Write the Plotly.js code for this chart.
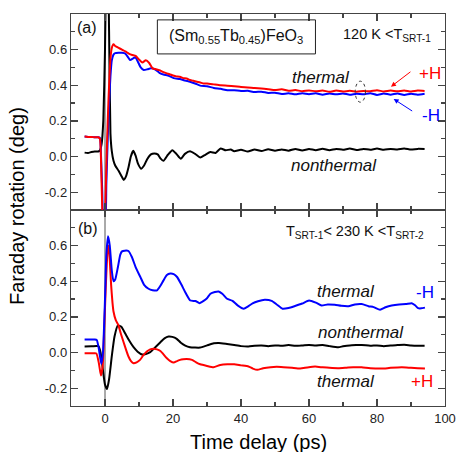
<!DOCTYPE html>
<html>
<head>
<meta charset="utf-8">
<script src="https://cdn.plot.ly/plotly-3.0.1.min.js"></script>
<style>html,body{margin:0;padding:0;background:#fff;}#chart{width:457px;height:452px;}</style>
</head>
<body>
<div id="chart"></div>
<script>
// ---------- Panel (a): 120 K < T_SRT-1 ----------
const aRedX = [-6,-5,-4,-3,-2,-1.5,-1.2,-0.8,-0.4,0,0.4,0.8,1.2,1.6,2,2.5,3,3.5,4,5,6,7,8,9,10,11,12,13,14,15,16,17,18,19,20,21,22,23,24,25,26,27,28,29,30,32,34,36,38,40,42,44,46,48,50,52,54,56,58,60,62,64,66,68,70,72,74,76,78,80,82,84,86,88,90,92,94];
const aRedY = [0.112,0.11,0.11,0.108,0.108,0.10,0.0,-0.3,-0.45,-0.35,-0.05,0.2,0.4,0.55,0.61,0.63,0.62,0.615,0.61,0.6,0.59,0.578,0.57,0.565,0.545,0.528,0.54,0.525,0.495,0.49,0.485,0.475,0.468,0.462,0.455,0.45,0.448,0.44,0.438,0.43,0.425,0.42,0.416,0.41,0.41,0.405,0.4,0.398,0.395,0.39,0.388,0.384,0.382,0.378,0.373,0.377,0.369,0.373,0.367,0.371,0.366,0.37,0.364,0.37,0.365,0.369,0.364,0.368,0.366,0.372,0.365,0.37,0.366,0.371,0.365,0.37,0.368];

const aBlueX = [-6,-5,-4,-3,-2,-1.5,-1.2,-0.8,-0.4,0,0.4,0.8,1.2,1.6,2,2.5,3,4,5,6,6.5,7.4,8.2,8.9,9.6,10.5,11.4,12.5,13.5,14.8,16,17.2,18.5,20.2,22,23.6,25,26.5,28,30,32,34,36,38,40,42,44,46,48,50,52,54,56,58,60,62,64,66,68,70,72,74,76,78,80,82,84,86,88,90,92,94];
const aBlueY = [0.112,0.11,0.11,0.108,0.108,0.105,0.02,-0.2,-0.4,-0.4,-0.15,0.1,0.3,0.45,0.54,0.572,0.58,0.582,0.582,0.578,0.565,0.542,0.55,0.557,0.535,0.5,0.486,0.49,0.495,0.488,0.47,0.46,0.455,0.44,0.435,0.426,0.42,0.41,0.398,0.395,0.385,0.38,0.372,0.372,0.368,0.369,0.362,0.364,0.357,0.358,0.351,0.355,0.349,0.355,0.35,0.355,0.347,0.354,0.349,0.354,0.347,0.353,0.349,0.355,0.346,0.354,0.347,0.354,0.346,0.352,0.347,0.352];

const aBlackX = [-6,-5,-4,-3,-2,-1.5,-1,-0.5,0,0.4,0.8,1.2,1.6,2,2.5,3,4,5,5.5,6.2,6.9,7.6,8.3,9,9.7,10.6,11.5,12.4,13.5,14.5,15.5,16.3,17.2,18.5,19.8,21,22.3,23.5,25,26.5,28,29.5,31,32.5,34,35.5,37,38,40,42,44,46,48,50,52,54,56,58,60,62,64,66,68,70,72,74,76,78,80,82,84,86,88,90,92,94];
const aBlackY = [0.022,0.02,0.025,0.028,0.028,0.035,0.07,0.2,0.6,1.1,1.2,0.7,0.13,0.03,-0.024,-0.05,-0.08,-0.115,-0.131,-0.11,-0.062,0.0,0.032,0.005,-0.04,-0.068,-0.05,-0.015,0.012,0.017,0.012,-0.01,-0.024,0.01,0.036,0.015,-0.012,0.015,0.03,0.015,-0.005,0.01,0.025,0.02,0.045,0.035,0.04,0.03,0.038,0.028,0.04,0.031,0.041,0.033,0.04,0.033,0.043,0.034,0.042,0.036,0.044,0.036,0.043,0.038,0.045,0.037,0.043,0.038,0.045,0.038,0.043,0.04,0.045,0.039,0.043,0.042];

// ---------- Panel (b): T_SRT-1 < 230 K < T_SRT-2 ----------
const bBlueX = [-6,-4,-3,-2.4,-1.8,-1.1,-0.6,0,0.4,0.9,1.4,2,2.5,3,3.8,4.5,5,5.8,6.9,7.9,9,10.4,11.5,12.8,14,15.3,16.3,17.2,18.2,19.2,20.2,21.2,22.5,23.6,25.1,26.6,27.8,29,30,31,32.3,33.4,34.5,35.9,37.5,39,40.8,42,43.4,45,47,49,50.5,52.2,54,55.7,58,60,62,63.7,65.5,67.6,69.5,71.6,73.5,75.5,77.5,79,80.9,82.5,84.3,86.5,88.5,90.2,91.2,92.1,93,94.1];
const bBlueY = [0.073,0.073,0.073,0.07,0.02,-0.064,0.0,0.3,0.55,0.652,0.6,0.46,0.40,0.41,0.48,0.55,0.568,0.572,0.57,0.536,0.48,0.424,0.38,0.358,0.35,0.349,0.375,0.405,0.435,0.443,0.44,0.424,0.38,0.339,0.292,0.289,0.277,0.29,0.305,0.33,0.34,0.343,0.33,0.302,0.29,0.265,0.246,0.258,0.276,0.288,0.296,0.29,0.27,0.246,0.25,0.26,0.275,0.292,0.28,0.264,0.27,0.268,0.262,0.26,0.27,0.272,0.26,0.255,0.24,0.254,0.264,0.27,0.272,0.277,0.265,0.249,0.248,0.252];

const bBlackX = [-6,-4,-2.5,-1.9,-1.3,-0.6,0,0.6,1.2,2,2.8,3.8,4.8,6,7.2,8.4,9.6,10.9,12,13.3,14.8,16.3,17.5,18.7,19.8,21.1,22.3,23.6,25,26.5,28,30,32,33.5,35.9,38,40,42.2,44,46,48,50,52,54,56,58,60,62,64,66,68.6,70,72,74,75.5,78,80,82,84,86,88,90,92,94];
const bBlackY = [0.034,0.035,0.037,0.035,0.0,-0.1,-0.18,-0.204,-0.15,-0.02,0.09,0.152,0.145,0.105,0.065,0.03,0.005,-0.011,-0.008,0.002,0.03,0.058,0.08,0.09,0.088,0.077,0.055,0.039,0.03,0.028,0.028,0.04,0.052,0.054,0.048,0.042,0.036,0.034,0.038,0.04,0.036,0.04,0.038,0.042,0.038,0.04,0.043,0.04,0.042,0.036,0.03,0.035,0.04,0.042,0.043,0.038,0.04,0.036,0.04,0.042,0.044,0.04,0.038,0.038];

const bRedX = [-6,-4,-3,-2.5,-1.8,-1.2,-0.7,-0.2,0.3,0.8,1.1,1.4,1.8,2.2,2.5,3.2,3.9,4.6,5.4,6.2,6.9,7.7,8.4,9.3,10.3,11.3,12.3,13.3,14.3,15.3,16.3,17.2,18.2,19.2,20.2,21.2,22.1,23,24,25.6,26.8,28,30,31.9,33.9,36,38,40,42.2,43.5,44.8,46.5,48.7,50.5,52.5,55,57.4,59.5,61.8,64,66,68.6,71,73,75.5,78,81.4,84,87.3,90,92,94.1];
const bRedY = [-0.004,-0.004,-0.004,-0.006,-0.06,-0.129,-0.08,0.15,0.4,0.58,0.6,0.52,0.38,0.28,0.23,0.18,0.156,0.11,0.062,0.015,-0.022,-0.05,-0.06,-0.055,-0.041,-0.015,0.006,0.018,0.021,0.018,0.009,-0.01,-0.032,-0.048,-0.056,-0.048,-0.041,-0.038,-0.036,-0.041,-0.055,-0.066,-0.075,-0.082,-0.07,-0.066,-0.066,-0.072,-0.078,-0.09,-0.097,-0.088,-0.082,-0.08,-0.082,-0.086,-0.09,-0.084,-0.079,-0.083,-0.086,-0.088,-0.085,-0.082,-0.083,-0.088,-0.09,-0.086,-0.083,-0.086,-0.088,-0.09];

const xTickVals = [0,20,40,60,80,100];
const yTickVals = [-0.2,0,0.2,0.4,0.6];
const yTickText = ['-0.2','0.0','0.2','0.4','0.6'];

const RED = '#ff0000', BLUE = '#0000ff', BLACK = '#000000';
const FONT = 'Liberation Sans, Arial, sans-serif';

function tr(x, y, color, xa, ya) {
  return {x: x, y: y, type: 'scatter', mode: 'lines', xaxis: xa, yaxis: ya,
    line: {color: color, width: 2, shape: 'spline', smoothing: 0.5},
    hoverinfo: 'skip', showlegend: false, cliponaxis: true};
}

const data = [
  tr(aBlackX, aBlackY, BLACK, 'x2', 'y2'),
  tr(aBlueX, aBlueY, BLUE, 'x2', 'y2'),
  tr(aRedX, aRedY, RED, 'x2', 'y2'),
  tr(bBlackX, bBlackY, BLACK, 'x', 'y'),
  tr(bRedX, bRedY, RED, 'x', 'y'),
  tr(bBlueX, bBlueY, BLUE, 'x', 'y')
];

const AX = '#444';
const xCommon = {
  range: [-10, 100], showgrid: false, zeroline: false,
  showline: true, linecolor: AX, linewidth: 1.2, mirror: 'ticks',
  ticks: 'inside', ticklen: 7, tickwidth: 1.2, tickcolor: AX,
  tickvals: xTickVals,
  minor: {tickvals: [-10,10,30,50,70,90], ticks: 'inside', ticklen: 4, tickwidth: 1.2, tickcolor: AX},
  tickfont: {family: FONT, size: 13, color: '#222'}
};
const yCommon = {
  range: [-0.3, 0.8], showgrid: false, zeroline: false,
  showline: true, linecolor: AX, linewidth: 1.2, mirror: 'ticks',
  ticks: 'inside', ticklen: 7, tickwidth: 1.2, tickcolor: AX,
  tickvals: yTickVals, ticktext: yTickText,
  minor: {tickvals: [-0.1,0.1,0.3,0.5,0.7], ticks: 'inside', ticklen: 4, tickwidth: 1.2, tickcolor: AX},
  tickfont: {family: FONT, size: 13, color: '#222'}
};

function txt(x, y, xr, yr, text, opts) {
  return Object.assign({x: x, y: y, xref: xr, yref: yr, text: text, showarrow: false,
    font: {family: FONT, size: 17, color: '#000'}, xanchor: 'center', yanchor: 'middle'}, opts || {});
}

const annotations = [
  txt(-5.2, 0.724, 'x2', 'y2', '(a)', {font: {family: FONT, size: 16, color: '#111'}}),
  txt(38.6, 0.672, 'x2', 'y2', '(Sm<sub>0.55</sub>Tb<sub>0.45</sub>)FeO<sub>3</sub>', {font: {family: FONT, size: 16, color: '#111'}}),
  txt(96.6, 0.68, 'x2', 'y2', '120 K &lt;T<sub>SRT-1</sub>', {xanchor: 'right', font: {family: FONT, size: 14.5, color: '#111'}}),
  txt(63.5, 0.443, 'x2', 'y2', '<i>thermal</i>', {font: {family: FONT, size: 17, color: '#111'}}),
  txt(95.5, 0.465, 'x2', 'y2', '+H', {font: {family: FONT, size: 17, color: RED}}),
  txt(96, 0.229, 'x2', 'y2', '-H', {font: {family: FONT, size: 17, color: BLUE}}),
  txt(67.3, -0.052, 'x2', 'y2', '<i>nonthermal</i>', {font: {family: FONT, size: 17, color: '#111'}}),
  {x: 84.1, y: 0.392, xref: 'x2', yref: 'y2', text: '', showarrow: true, ax: 21, ay: -16,
    arrowcolor: RED, arrowwidth: 1, arrowhead: 2, arrowsize: 1},
  {x: 84.9, y: 0.323, xref: 'x2', yref: 'y2', text: '', showarrow: true, ax: 20, ay: 13,
    arrowcolor: BLUE, arrowwidth: 1, arrowhead: 2, arrowsize: 1},

  txt(-5.0, 0.695, 'x', 'y', '(b)', {font: {family: FONT, size: 16, color: '#111'}}),
  txt(94.5, 0.675, 'x', 'y', 'T<sub>SRT-1</sub>&lt; 230 K &lt;T<sub>SRT-2</sub>', {xanchor: 'right', font: {family: FONT, size: 14.5, color: '#111'}}),
  txt(70.8, 0.343, 'x', 'y', '<i>thermal</i>', {font: {family: FONT, size: 17, color: '#111'}}),
  txt(94.2, 0.337, 'x', 'y', '-H', {font: {family: FONT, size: 17, color: BLUE}}),
  txt(75.2, 0.112, 'x', 'y', '<i>nonthermal</i>', {font: {family: FONT, size: 17, color: '#111'}}),
  txt(70.8, -0.163, 'x', 'y', '<i>thermal</i>', {font: {family: FONT, size: 17, color: '#111'}}),
  txt(93.1, -0.163, 'x', 'y', '+H', {font: {family: FONT, size: 17, color: RED}}),

  txt(0.5, -0.092, 'paper', 'paper', 'Time delay (ps)', {font: {family: FONT, size: 20, color: '#000'}}),
  {x: (17 - 71) / 374, y: 0.51, xref: 'paper', yref: 'paper', text: 'Faraday rotation (deg)', showarrow: false,
    textangle: -90, font: {family: FONT, size: 20, color: '#000'}, xanchor: 'center', yanchor: 'middle'}
];

const shapes = [
  {type: 'line', xref: 'x2', yref: 'y2', x0: 0, x1: 0, y0: -0.3, y1: 0.8, line: {color: '#555', width: 1}, layer: 'below'},
  {type: 'line', xref: 'x', yref: 'y', x0: 0, x1: 0, y0: -0.3, y1: 0.8, line: {color: '#555', width: 1}, layer: 'below'},
  {type: 'rect', xref: 'x2', yref: 'y2', x0: 15.4, x1: 61.9, y0: 0.576, y1: 0.767, line: {color: '#222', width: 1}},
  {type: 'circle', xref: 'x2', yref: 'y2', x0: 73.6, x1: 76.6, y0: 0.305, y1: 0.423, line: {color: '#333', width: 1, dash: 'dot'}}
];

const layout = {
  width: 457, height: 452,
  margin: {l: 71, r: 12, t: 14, b: 46},
  paper_bgcolor: '#fff', plot_bgcolor: '#fff',
  showlegend: false,
  xaxis: Object.assign({}, xCommon, {anchor: 'y', domain: [0, 1]}),
  yaxis: Object.assign({}, yCommon, {anchor: 'x', domain: [0, 0.5]}),
  xaxis2: Object.assign({}, xCommon, {anchor: 'y2', domain: [0, 1], matches: 'x', showticklabels: false}),
  yaxis2: Object.assign({}, yCommon, {anchor: 'x2', domain: [0.5, 1]}),
  annotations: annotations,
  shapes: shapes
};

Plotly.newPlot('chart', data, layout, {staticPlot: true, displayModeBar: false});
</script>
</body>
</html>
